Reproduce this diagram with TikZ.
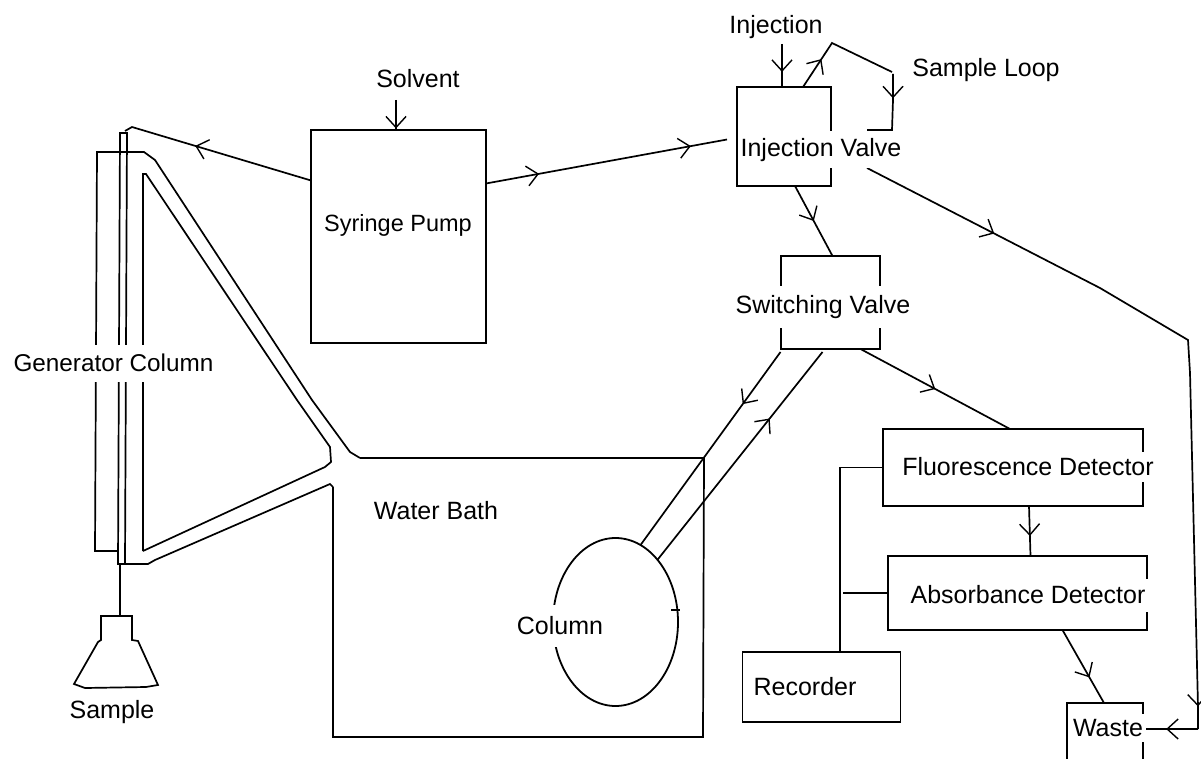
\documentclass[tikz,border=0pt]{standalone}
\usepackage{fontspec}
\setmainfont{Liberation Sans}
\usetikzlibrary{arrows.meta,decorations.markings,shapes.geometric}
\tikzset{
    unit/.style={draw, line width=1.8pt, inner sep=0pt, outer sep=0pt},
    pipe/.style={line width=1.7pt},
    lbl/.style={font=\fontsize{25}{28}\selectfont, inner sep=1pt},
    gaplbl/.style={lbl, fill=white, minimum height=37pt, inner xsep=3pt},
    flow/.style={postaction={decorate, decoration={markings,
        mark=at position #1 with {\arrow[line width=1.4pt]{Straight Barb[length=11pt,width=20pt]}}}}}
}
\begin{document}
\begin{tikzpicture}[x=1pt,y=-1pt]
    \useasboundingbox (0,0) rectangle (1201,759);

    % Boxes
    \node[unit, minimum width=175pt, minimum height=213pt] (pump) at (398.5,236.5) {};
    \node[unit, minimum width=94pt, minimum height=99pt] (ivalve) at (784,136.5) {};
    \node[unit, minimum width=99pt, minimum height=93pt] (svalve) at (830.5,302.5) {};
    \node[unit, minimum width=260pt, minimum height=77pt] (fluor) at (1013,467.5) {};
    \node[unit, minimum width=259pt, minimum height=74pt] (absorb) at (1017.5,593) {};
    \node[unit, minimum width=158pt, minimum height=70pt] (recorder) at (821.5,687) {};
    \node[unit, ellipse, minimum width=125pt, minimum height=168pt] (column) at (615.5,622) {};

    % Waste runs off the page
    \coordinate (wastetl) at (1067,703);
    \coordinate (wastetr) at (1143,703);
    \draw[pipe] (1067,759) -- (wastetl) -- (wastetr) -- (1143,759);

    % Water bath
    \coordinate (bathtl) at (360,458);
    \coordinate (bathtr) at (704,458);
    \coordinate (bathlow) at (333,487);
    \draw[pipe] (bathtl) -- (bathtr) -- (703,737) -- (333,737) -- (bathlow);

    % Generator column
    \coordinate (gentop) at (125,131);
    \draw[pipe] (118,564) -- (120,133) -- (127,133) -- (125,564) -- cycle;
    \draw[pipe] (118,551) -- (95,551) -- (97,152) -- (144,152) -- (155,160)
        -- (312,400) -- (350,452) -- (bathtl);
    \draw[pipe] (143,551) -- (143,174) -- (146,174) -- (297,400) -- (330,447)
        -- (331,462) -- (325,467) -- (143,551);
    \draw[pipe] (125,564) -- (148,564) -- (155,560) -- (330,484) -- (bathlow);

    % Sample bottle
    \coordinate (bottletop) at (120,616);
    \draw[pipe] (120,564) -- (bottletop);
    \draw[pipe] (101,616) -- (132,616) -- (132,640) -- (138,641) -- (158,685)
        -- (146,687) -- (85,688) -- (74,684) -- (98,642) -- (101,640) -- cycle;

    % Feeds
    \coordinate (solventin) at (396,100);
    \coordinate (injectin) at (782,44);
    \draw[pipe, flow=0.95] (solventin) -- (396,130);
    \draw[pipe, flow=0.65] (injectin) -- ([xshift=-2pt]ivalve.north);

    % Pump lines
    \draw[pipe, flow=0.62] ([yshift=56pt]pump.west) -- (132,127) -- (gentop);
    \draw[pipe, flow=0.22, flow=0.85] ([yshift=53pt]pump.east) -- ([xshift=-10pt,yshift=-3pt]ivalve.west);

    % Sample loop
    \coordinate (looptop) at (832,43);
    \coordinate (loopend) at (867,130);
    \draw[pipe, flow=0.28] ([xshift=19pt]ivalve.north) -- (looptop) -- (892,72);
    \draw[pipe, flow=0.3] (893,74) -- (893,100) -- (892,130) -- (loopend);

    % Valve outlets
    \draw[pipe, flow=0.5] ([xshift=11pt]ivalve.south) -- ([xshift=2pt]svalve.north);
    \draw[pipe, flow=0.19, flow=0.97] ([xshift=83pt,yshift=18pt]ivalve.south) -- (1100,288) -- (1188,340)
        -- (1190,373) -- (1194,540) -- (1198,707) -- (1198,729);
    \draw[pipe, flow=0.5] ([xshift=30pt]svalve.south) -- ([xshift=-3pt]fluor.north);

    % Column lines
    \draw[pipe, flow=0.27] ([xshift=-50pt,yshift=-3pt]svalve.south) -- (column.72);
    \draw[pipe, flow=0.68] (column.56) -- ([xshift=-8pt,yshift=-3pt]svalve.south);
    \draw[pipe] ([xshift=-7pt,yshift=12pt]column.east) -- ([xshift=2pt,yshift=12pt]column.east);

    % Detectors
    \draw[pipe, flow=0.6] ([xshift=16pt]fluor.south) -- ([xshift=13pt]absorb.north);
    \draw[pipe, flow=0.65] ([xshift=45pt]absorb.south) -- ([xshift=37pt]wastetl);
    \draw[pipe, flow=0.58] (1198,729) -- ([yshift=-26pt]wastetr);
    \draw[pipe] (fluor.west) -- (840,467.5) -- ([xshift=18.5pt]recorder.north);
    \draw[pipe] (absorb.west) -- (843,593);

    % Labels
    \node[lbl] (solvent) at (418,79) {Solvent};
    \node[lbl] (injection) at (776,27) {Injection};
    \node[lbl] (loop) at (986,70) {Sample Loop};
    \node[lbl, font=\fontsize{23.5}{28}\selectfont] (pumplbl) at (398,225) {Syringe Pump};
    \node[gaplbl] (ivalvelbl) at (821,150) {Injection Valve};
    \node[gaplbl, minimum height=42pt] (svalvelbl) at (823,307) {Switching Valve};
    \node[gaplbl, font=\fontsize{24.3}{28}\selectfont] (genlbl) at (113.5,363) {Generator Column};
    \node[lbl] (bathlbl) at (436,511) {Water Bath};
    \node[gaplbl, minimum height=42pt] (columnlbl) at (560,626) {Column};
    \node[gaplbl, minimum height=30pt] (fluorlbl) at (1028,467) {Fluorescence Detector};
    \node[gaplbl, minimum height=33pt] (absorblbl) at (1028,595) {Absorbance Detector};
    \node[lbl] (recorderlbl) at (805,687) {Recorder};
    \node[gaplbl, minimum height=28pt] (wastelbl) at (1108,728) {Waste};
    \node[lbl] (samplelbl) at (112,712) {Sample};
\end{tikzpicture}
\end{document}
